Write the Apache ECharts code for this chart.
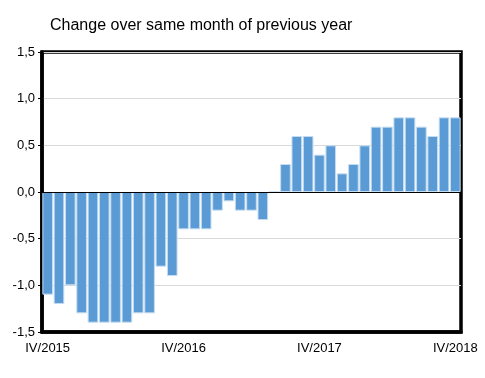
<!DOCTYPE html>
<html>
<head>
<meta charset="utf-8">
<script src="https://cdn.jsdelivr.net/npm/echarts@6/dist/echarts.min.js"></script>
<style>html,body{margin:0;padding:0;background:#fff;}#c{width:485px;height:378px;}</style>
</head>
<body>
<div id="c"></div>
<script>
var titleText = 'Change over same month of previous year';
var romanMonths = ['I','II','III','IV','V','VI','VII','VIII','IX','X','XI','XII'];
// Apr 2015 .. Apr 2018
var categories = [];
(function(){
  var m = 3, y = 2015;
  for (var i = 0; i < 37; i++) {
    categories.push(romanMonths[m] + '/' + y);
    m++; if (m === 12) { m = 0; y++; }
  }
})();
var values = [
  -1.1, -1.2, -1.0, -1.3, -1.4, -1.4, -1.4, -1.4, -1.3, -1.3, -0.8, -0.9,
  -0.4, -0.4, -0.4, -0.2, -0.1, -0.2, -0.2, -0.3, 0.0, 0.3, 0.6, 0.6,
  0.4, 0.5, 0.2, 0.3, 0.5, 0.7, 0.7, 0.8, 0.8, 0.7, 0.6, 0.8, 0.8
];
var yTicks = [-1.5, -1.0, -0.5, 0.0, 0.5, 1.0, 1.5];

var chart = echarts.init(document.getElementById('c'), null, {renderer: 'canvas'});
var font = 'Liberation Sans, Arial, sans-serif';
chart.setOption({
  animation: false,
  backgroundColor: '#ffffff',
  title: {
    text: titleText, left: 45, top: 13,
    textStyle: {fontFamily: font, fontSize: 16, fontWeight: 'normal', color: '#000'}
  },
  grid: {
    left: 42, right: 24, top: 52, bottom: 46,
    show: true, borderColor: '#000', borderWidth: 3.5, backgroundColor: 'transparent'
  },
  xAxis: {
    type: 'category', data: categories, boundaryGap: true,
    axisLine: {onZero: false, lineStyle: {color: '#000', width: 3.5}},
    axisTick: {show: false},
    axisLabel: {interval: 11, color: '#000', fontFamily: font, fontSize: 13, margin: 10}
  },
  yAxis: {
    type: 'value', min: yTicks[0], max: yTicks[yTicks.length - 1], interval: 0.5,
    axisLine: {show: true, lineStyle: {color: '#000', width: 3.5}},
    axisTick: {show: true, length: 4, lineStyle: {color: '#000', width: 1}},
    axisLabel: {color: '#000', fontFamily: font, fontSize: 13, margin: 7,
      formatter: function(v){ return v.toFixed(1).replace('.', ','); }},
    splitLine: {show: true, lineStyle: {color: '#d9d9d9', width: 1}}
  },
  series: [{
    type: 'bar', data: values, barCategoryGap: '6%',
    itemStyle: {color: '#5b9bd5', borderColor: '#c5dcf0', borderWidth: 1},
    markLine: {
      silent: true, symbol: 'none', label: {show: false},
      lineStyle: {color: '#000', width: 1, type: 'solid'},
      data: [{yAxis: 0}]
    }
  }]
});
</script>
</body>
</html>
